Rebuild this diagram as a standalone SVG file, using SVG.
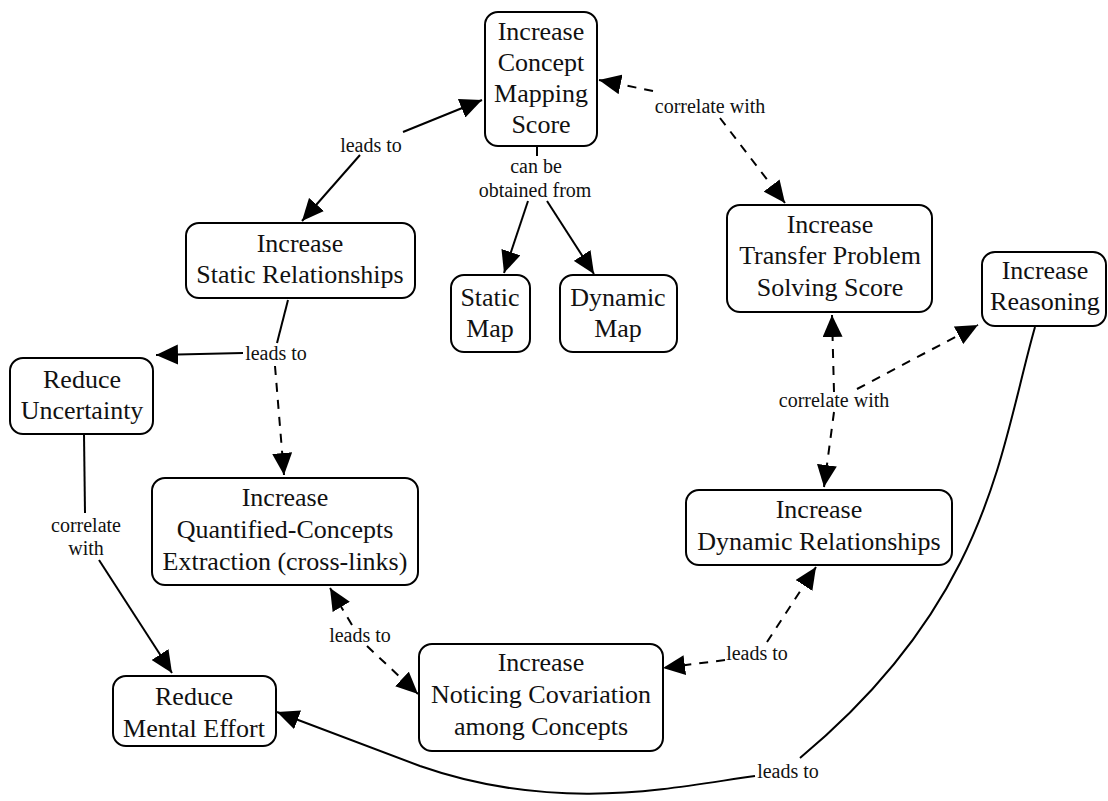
<svg xmlns="http://www.w3.org/2000/svg" width="1108" height="801" viewBox="0 0 1108 801">
<style>
.box{fill:#fff;stroke:#000;stroke-width:2}
.nt{font-size:26px;fill:#111;text-anchor:middle}
.lt{font-size:20px;fill:#111;text-anchor:middle}
.ln{fill:none;stroke:#000;stroke-width:2}
.dl{fill:none;stroke:#000;stroke-width:2;stroke-dasharray:9 8}
</style>
<defs>
<marker id="arr" markerUnits="userSpaceOnUse" viewBox="0 0 22 20" markerWidth="22" markerHeight="20" refX="22" refY="10" orient="auto">
<path d="M0,0 L22,10 L0,20 Z" fill="#000"/>
</marker>
</defs>
<rect width="1108" height="801" fill="#fff"/>
<g id="connectors" font-family="Liberation Serif, DejaVu Serif, serif">
<path class="ln" d="M403 132 L482 100" marker-end="url(#arr)"/>
<path class="ln" d="M360 155 L302 221" marker-end="url(#arr)"/>
<text class="lt" x="371" y="152">leads to</text>
<path class="ln" d="M537 146 L537 156"/>
<text class="lt" x="536" y="173">can be</text>
<text class="lt" x="535" y="197">obtained from</text>
<path class="ln" d="M528 201 L504 273" marker-end="url(#arr)"/>
<path class="ln" d="M547 201 L594 274" marker-end="url(#arr)"/>
<path class="dl" d="M653 91 L599 80" marker-end="url(#arr)"/>
<path class="dl" d="M720 118 L785 203" marker-end="url(#arr)"/>
<text class="lt" x="710" y="113">correlate with</text>
<path class="ln" d="M288 300 L277 343"/>
<path class="ln" d="M243 353 L156 355" marker-end="url(#arr)"/>
<path class="dl" d="M275 366 L284 475" marker-end="url(#arr)"/>
<text class="lt" x="276" y="360">leads to</text>
<path class="ln" d="M84 434 L85 513"/>
<text class="lt" x="86" y="532">correlate</text>
<text class="lt" x="86" y="555">with</text>
<path class="ln" d="M99 560 L172 673" marker-end="url(#arr)"/>
<path class="dl" d="M834 392 L832 315" marker-end="url(#arr)"/>
<path class="dl" d="M834 412 L824 487" marker-end="url(#arr)"/>
<path class="dl" d="M857 389 L978 325" marker-end="url(#arr)"/>
<text class="lt" x="834" y="407">correlate with</text>
<path class="dl" d="M725 660 L663 668" marker-end="url(#arr)"/>
<path class="dl" d="M767 642 L816 567" marker-end="url(#arr)"/>
<text class="lt" x="757" y="660">leads to</text>
<path class="dl" d="M352 625 L330 588" marker-end="url(#arr)"/>
<path class="dl" d="M367 646 L418 694" marker-end="url(#arr)"/>
<text class="lt" x="360" y="642">leads to</text>
<path class="ln" d="M1035 327 C1000 450, 990 600, 800 758"/>
<path class="ln" d="M755 776 C680 786, 560 815, 420 766 L277 712" marker-end="url(#arr)"/>
<text class="lt" x="788" y="778">leads to</text>
</g>
<g id="nodes" font-family="Liberation Serif, DejaVu Serif, serif">
<g id="n-concept-mapping">
<rect class="box" x="485" y="12" width="112" height="134" rx="13"/>
<text class="nt" x="541" y="40">Increase</text>
<text class="nt" x="541" y="71">Concept</text>
<text class="nt" x="541" y="102">Mapping</text>
<text class="nt" x="541" y="133">Score</text>
</g>
<g id="n-static-rel">
<rect class="box" x="186" y="223" width="229" height="75" rx="13"/>
<text class="nt" x="300" y="252">Increase</text>
<text class="nt" x="300" y="283">Static Relationships</text>
</g>
<g id="n-static-map">
<rect class="box" x="451" y="275" width="79" height="77" rx="13"/>
<text class="nt" x="490" y="306">Static</text>
<text class="nt" x="490" y="337">Map</text>
</g>
<g id="n-dynamic-map">
<rect class="box" x="560" y="275" width="117" height="77" rx="13"/>
<text class="nt" x="618" y="306">Dynamic</text>
<text class="nt" x="618" y="337">Map</text>
</g>
<g id="n-transfer">
<rect class="box" x="727" y="205" width="205" height="107" rx="13"/>
<text class="nt" x="830" y="233">Increase</text>
<text class="nt" x="830" y="264">Transfer Problem</text>
<text class="nt" x="830" y="296">Solving Score</text>
</g>
<g id="n-reasoning">
<rect class="box" x="982" y="252" width="124" height="74" rx="13"/>
<text class="nt" x="1045" y="279">Increase</text>
<text class="nt" x="1045" y="310">Reasoning</text>
</g>
<g id="n-uncertainty">
<rect class="box" x="10" y="358" width="143" height="76" rx="13"/>
<text class="nt" x="82" y="388">Reduce</text>
<text class="nt" x="82" y="419">Uncertainty</text>
</g>
<g id="n-quantified">
<rect class="box" x="152" y="478" width="266" height="107" rx="13"/>
<text class="nt" x="285" y="506">Increase</text>
<text class="nt" x="285" y="538">Quantified-Concepts</text>
<text class="nt" x="285" y="570">Extraction (cross-links)</text>
</g>
<g id="n-dynamic-rel">
<rect class="box" x="686" y="490" width="266" height="75" rx="13"/>
<text class="nt" x="819" y="518">Increase</text>
<text class="nt" x="819" y="550">Dynamic Relationships</text>
</g>
<g id="n-mental-effort">
<rect class="box" x="113" y="676" width="163" height="70" rx="13"/>
<text class="nt" x="194" y="705">Reduce</text>
<text class="nt" x="194" y="737">Mental Effort</text>
</g>
<g id="n-noticing">
<rect class="box" x="419" y="644" width="244" height="107" rx="13"/>
<text class="nt" x="541" y="671">Increase</text>
<text class="nt" x="541" y="703">Noticing Covariation</text>
<text class="nt" x="541" y="735">among Concepts</text>
</g>
</g>
</svg>
